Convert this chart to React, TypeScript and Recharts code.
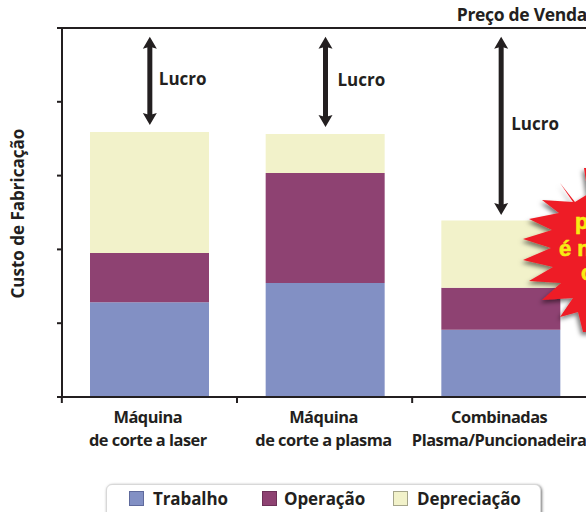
import { BarChart, Bar, XAxis, YAxis, ReferenceLine, Legend } from "recharts";

const categories = ["Máquina\nde corte a laser", "Máquina\nde corte a plasma", "Combinadas\nPlasma/Puncionadeira"];
const trabalho = [25.7, 30.9, 18.2];
const operacao = [13.3, 29.8, 11.4];
const depreciacao = [32.8, 10.6, 18.2];
const lucroBase = [73.7, 73.2, 49.3];
const lucroTop = [97.6, 97.6, 97.6];
const yTicks = [0, 20, 40, 60, 80, 100];
const precoVenda = 100;

const tableData = categories.map((name, i) => ({
  name,
  trabalho: trabalho[i],
  operacao: operacao[i],
  depreciacao: depreciacao[i],
}));

const seriesInfo = [
  { key: "trabalho", label: "Trabalho", color: "#8290c4", edge: "#5f6a9c", slot: 133, gap: 9 },
  { key: "operacao", label: "Operação", color: "#8e4272", edge: "#6d3158", slot: 131, gap: 7 },
  { key: "depreciacao", label: "Depreciação", color: "#f2f2ca", edge: "#a5a58a", slot: 130, gap: 9 },
];

const INK = "#231f20";
const FONT = "'Open Sans', sans-serif";

function CategoryTick({ x, y, payload, index }: any) {
  const lines = String(payload.value).split("\n");
  return (
    <g>
      <line x1={x - 88 - index * 0.5} x2={x - 88 - index * 0.5} y1={y - 8} y2={y - 2} stroke={INK} strokeWidth={2} />
      {lines.map((line, i) => (
        <text key={i} x={x - 2} y={y + 18 + i * 23} textAnchor="middle" fill={INK} fontFamily={FONT} fontWeight={700} fontSize={16.4} letterSpacing={-0.5}>
          {line}
        </text>
      ))}
    </g>
  );
}

function LucroArrow({ x1, y1, x2, y2 }: any) {
  // y1 and y2 can come in either order
  const top = Math.min(y1, y2);
  const bottom = Math.max(y1, y2);
  return (
    <g fill={INK}>
      <line x1={x1} x2={x2} y1={top + 8} y2={bottom - 8} stroke={INK} strokeWidth={5} />
      <polygon points={`${x1},${top} ${x1 + 7},${top + 12} ${x1},${top + 10} ${x1 - 7},${top + 12}`} />
      <polygon points={`${x1},${bottom} ${x1 + 7},${bottom - 12} ${x1},${bottom - 10} ${x1 - 7},${bottom - 12}`} />
    </g>
  );
}

function LegendBox() {
  return (
    <div
      style={{
        display: "flex",
        alignItems: "center",
        boxSizing: "border-box",
        width: 435,
        height: 40,
        marginLeft: 106,
        paddingLeft: 22,
        paddingBottom: 12,
        background: "#fff",
        border: "1px solid #d8d8d8",
        borderRadius: 6,
        boxShadow: "1px 1px 3px rgba(0,0,0,0.55)",
        fontFamily: FONT,
        fontWeight: 700,
        fontSize: 17,
        letterSpacing: -0.1,
        color: INK,
      }}
    >
      {seriesInfo.map((s) => (
        <span key={s.key} style={{ display: "flex", alignItems: "center", width: s.slot, flex: "none" }}>
          <span style={{ width: 13, height: 13, flex: "none", background: s.color, border: `1px solid ${s.edge}`, marginRight: s.gap }} />
          {s.label}
        </span>
      ))}
    </div>
  );
}

const starPoints =
  "584,168 588,194 575,202 560,183 573,202 542,200 559,213 529,219 552,230 523,239 551,248 523,260 553,267 529,281 561,283 542,300 573,298 560,317 578,312 583,332 600,332 600,168";

// the callout sits above the bars, so it gets its own layer over the chart
function StarCallout() {
  return (
    <svg width={586} height={512} style={{ position: "absolute", left: 0, top: 0, pointerEvents: "none" }}>
      <defs>
        <filter id="starShadow" x="-20%" y="-20%" width="140%" height="140%">
          <feDropShadow dx={-2} dy={3} stdDeviation={2} floodColor="#000" floodOpacity={0.5} />
        </filter>
      </defs>
      <polygon points={starPoints} fill="#ee1c25" filter="url(#starShadow)" />
      <g
        fill="#f7ec13"
        stroke="#f7ec13"
        strokeWidth={0.6}
        fontFamily="'Liberation Sans Narrow', 'Liberation Sans', sans-serif"
        fontWeight={700}
        fontSize={22}
      >
        <text x={575} y={229}>p</text>
        <text x={559} y={256}>é n</text>
        <text x={581} y={280}>c</text>
      </g>
    </svg>
  );
}

export default function App() {
  return (
    <div style={{ position: "absolute", left: 0, top: 0, width: 586, height: 512, overflow: "hidden", background: "#fff" }}>
      <BarChart
        width={589}
        height={524}
        data={tableData}
        margin={{ top: 28, right: 0, bottom: 0, left: 0 }}
        barSize={119}
      >
        <XAxis
          dataKey="name"
          axisLine={{ stroke: INK, strokeWidth: 2 }}
          tickLine={false}
          tick={<CategoryTick />}
          interval={0}
          height={87}
        />
        <YAxis
          width={62}
          domain={[0, 100]}
          ticks={yTicks}
          tick={() => <g />}
          tickSize={5}
          tickLine={{ stroke: INK, strokeWidth: 2 }}
          axisLine={{ stroke: INK, strokeWidth: 2 }}
          label={{
            value: "Custo de Fabricação",
            angle: -90,
            position: "insideLeft",
            offset: 0,
            dx: 18,
            dy: 86,
            fill: INK,
            fontFamily: FONT,
            fontWeight: 700,
            fontSize: 17,
          }}
        />
        <Legend verticalAlign="bottom" align="left" content={<LegendBox />} wrapperStyle={{ left: 0, width: 587, height: 40 }} />
        {seriesInfo.map((s) => (
          <Bar key={s.key} dataKey={s.key} name={s.label} stackId="custo" fill={s.color} isAnimationActive={false} />
        ))}
        <ReferenceLine
          y={precoVenda}
          stroke={INK}
          strokeWidth={2}
          label={{
            value: "Preço de Venda",
            position: "insideBottomRight",
            offset: 5,
            dx: 3,
            dy: -2,
            fill: INK,
            fontFamily: FONT,
            fontWeight: 700,
            fontSize: 17.5,
            letterSpacing: -0.3,
          }}
        />
        {categories.map((name, i) => (
          <ReferenceLine
            key={name}
            segment={[
              { x: name, y: lucroTop[i] },
              { x: name, y: lucroBase[i] },
            ]}
            shape={<LucroArrow />}
            label={{
              value: "Lucro",
              position: "right",
              offset: 10,
              dx: i === 1 ? 2 : i === 0 ? -1 : 0,
              dy: -2,
              fill: INK,
              fontFamily: FONT,
              fontWeight: 700,
              fontSize: 17,
            }}
          />
        ))}
      </BarChart>
      <StarCallout />
    </div>
  );
}
